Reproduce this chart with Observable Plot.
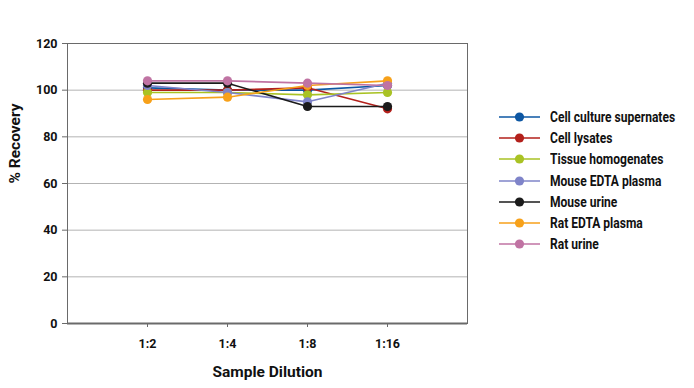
<!DOCTYPE html>
<html>
<head>
<meta charset="utf-8">
<script src="https://cdn.jsdelivr.net/npm/d3@7"></script>
<script src="https://cdn.jsdelivr.net/npm/@observablehq/plot@0.6"></script>
<style>
  html, body { margin: 0; padding: 0; background: #fff; }
  #wrap { position: relative; width: 694px; height: 388px; font-family: Roboto, "DejaVu Sans", sans-serif; font-weight: bold; }
  #legend { position: absolute; left: 498px; top: 106px; font-size: 14px; color: #111; white-space: nowrap; }
  .item { display: flex; align-items: center; height: 21.3px; }
  .item svg { margin-right: 9px; flex: none; }
  .item span { display: inline-block; transform: scaleX(0.86); transform-origin: left center; }
</style>
</head>
<body>
<div id="wrap"><div id="chart"></div><div id="legend"></div></div>
<script>
const dilutions = ["1:2", "1:4", "1:8", "1:16"];
const seriesNames = ["Cell culture supernates", "Cell lysates", "Tissue homogenates", "Mouse EDTA plasma", "Mouse urine", "Rat EDTA plasma", "Rat urine"];
const seriesColors = ["#0d57a3", "#b3201b", "#a9c224", "#7f84c9", "#1b1b1b", "#f7a11a", "#c073a3"];
const cellCultureSupernates = [101, 100, 100, 102];
const cellLysates = [100, 100, 101, 92];
const tissueHomogenates = [99, 99, 98, 99];
const mouseEdtaPlasma = [102, 99, 95, 103];
const mouseUrine = [103, 103, 93, 93];
const ratEdtaPlasma = [96, 97, 102, 104];
const ratUrine = [104, 104, 103, 102];
const yTicks = [0, 20, 40, 60, 80, 100, 120];

const seriesValues = [cellCultureSupernates, cellLysates, tissueHomogenates, mouseEdtaPlasma, mouseUrine, ratEdtaPlasma, ratUrine];

const marks = [
  Plot.gridY(yTicks.filter(d => d > 0 && d < 120), {stroke: "#b3b3b3", strokeOpacity: 1, strokeWidth: 1}),
  Plot.frame({stroke: "#6a6a6a", strokeWidth: 1}),
  Plot.ruleY([0], {stroke: "#6a6a6a", strokeWidth: 2}),
  Plot.axisY({ticks: yTicks, tickSize: 5, tickPadding: 5, stroke: "#6a6a6a", label: null, fontSize: 12.5, fill: "#111"}),
  Plot.axisX({tickSize: 4, tickPadding: 12, stroke: "#6a6a6a", label: null, fontSize: 12.5, fill: "#111"})
];
seriesNames.forEach((name, i) => {
  const rows = dilutions.map((d, j) => ({dilution: d, value: seriesValues[i][j]}));
  marks.push(Plot.line(rows, {x: "dilution", y: "value", stroke: seriesColors[i], strokeWidth: 1.6}));
  marks.push(Plot.dot(rows, {x: "dilution", y: "value", fill: seriesColors[i], r: 4.6}));
});
marks.push(Plot.text(["% Recovery"], {frameAnchor: "left", dx: -52, rotate: -90, fontSize: 15.5, fill: "#111", fontWeight: "bold"}));
marks.push(Plot.text(["Sample Dilution"], {frameAnchor: "bottom", dy: 53, fontSize: 15.5, fill: "#111", fontWeight: "bold"}));

const chart = Plot.plot({
  width: 694,
  height: 388,
  marginLeft: 67,
  marginRight: 227,
  marginTop: 43,
  marginBottom: 65,
  style: {fontFamily: "Roboto, 'DejaVu Sans', sans-serif", fontWeight: "bold", background: "#fff"},
  x: {type: "point", domain: dilutions, padding: 1},
  y: {domain: [0, 120]},
  marks
});
document.getElementById("chart").appendChild(chart);

const legend = document.getElementById("legend");
seriesNames.forEach((name, i) => {
  const item = document.createElement("div");
  item.className = "item";
  item.innerHTML = `<svg width="43" height="12"><line x1="1" y1="6" x2="42" y2="6" stroke="${seriesColors[i]}" stroke-width="1.6"/><circle cx="21.5" cy="6" r="4.6" fill="${seriesColors[i]}"/></svg><span>${name}</span>`;
  legend.appendChild(item);
});
</script>
</body>
</html>
